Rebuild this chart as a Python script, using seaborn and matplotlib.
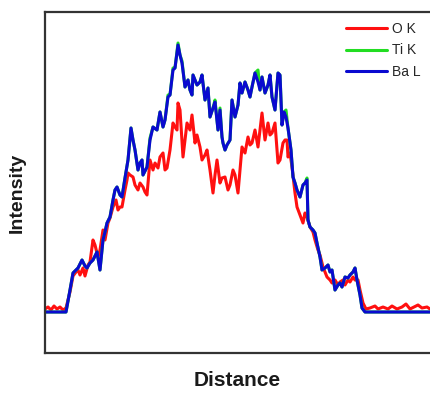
import pandas as pd
import numpy as np
import matplotlib
matplotlib.use("Agg")
import matplotlib.pyplot as plt
import seaborn as sns

# line scan values (distance in a.u., intensity in counts)
ba_dist = [0, 21, 25, 28, 31, 33, 35, 37, 40, 42, 45, 48, 50, 52, 55, 58, 60, 62, 65, 68,
           70, 72, 75, 77, 80, 83, 86, 88, 90, 93, 95, 97, 98, 102, 105, 108, 112, 115, 118, 120,
           123, 125, 128, 130, 133, 135, 137, 140, 143, 145, 147, 148, 152, 155, 157, 160, 163, 165, 168, 170,
           173, 175, 177, 178, 180, 182, 185, 187, 190, 193, 195, 197, 200, 203, 205, 207, 210, 213, 215, 217,
           220, 223, 225, 227, 230, 233, 235, 237, 239, 241, 243, 246, 248, 250, 252, 255, 258, 260, 262, 263,
           265, 268, 270, 272, 275, 277, 280, 283, 285, 287, 290, 293, 295, 297, 300, 303, 305, 308, 310, 312,
           315, 317, 320, 323, 385]
ba_int = [0, 0, 22, 39, 42, 44, 48, 52, 46, 44, 49, 52, 56, 60, 42, 72, 80, 89, 95, 112,
          122, 125, 117, 115, 134, 152, 184, 172, 162, 142, 149, 152, 137, 145, 172, 185, 182, 200, 185, 192,
          215, 217, 242, 244, 267, 257, 249, 225, 232, 222, 217, 237, 227, 230, 237, 212, 224, 195, 204, 210,
          182, 202, 175, 169, 162, 167, 172, 212, 195, 207, 229, 219, 230, 222, 215, 225, 239, 230, 222, 235,
          219, 227, 237, 215, 202, 239, 237, 187, 200, 195, 184, 162, 135, 129, 122, 115, 127, 129, 132, 92,
          85, 82, 79, 69, 55, 42, 44, 47, 40, 42, 22, 27, 29, 25, 35, 34, 37, 40, 44, 32,
          17, 4, 0, 0, 0]
ti_int = [0, 0, 22, 39, 42, 44, 48, 52, 46, 44, 49, 52, 56, 60, 42, 72, 80, 89, 95, 112,
          122, 125, 117, 115, 134, 152, 184, 172, 162, 142, 149, 152, 137, 145, 174, 185, 182, 200, 185, 192,
          217, 217, 244, 244, 269, 257, 251, 225, 232, 222, 217, 237, 227, 230, 237, 212, 224, 195, 204, 212,
          182, 204, 175, 169, 162, 167, 172, 212, 195, 207, 229, 219, 230, 222, 215, 225, 239, 242, 222, 235,
          219, 227, 237, 215, 202, 239, 237, 187, 200, 202, 184, 162, 135, 129, 122, 115, 127, 129, 134, 92,
          85, 82, 79, 69, 55, 42, 44, 47, 40, 42, 22, 27, 29, 25, 35, 34, 37, 40, 44, 32,
          17, 4, 0, 0, 0]
o_dist = [0, 3, 6, 9, 12, 15, 18, 21, 25, 28, 31, 33, 35, 38, 40, 43, 45, 48, 50, 53,
          55, 58, 60, 63, 65, 68, 71, 73, 75, 77, 80, 82, 83, 85, 88, 90, 93, 95, 98, 100,
          102, 105, 108, 110, 113, 115, 118, 120, 122, 125, 128, 130, 132, 133, 135, 138, 140, 142, 145, 147,
          150, 152, 155, 157, 160, 162, 165, 168, 170, 172, 175, 177, 180, 183, 185, 188, 190, 193, 195, 197,
          200, 203, 205, 207, 210, 213, 215, 217, 220, 223, 225, 227, 230, 233, 235, 238, 240, 242, 243, 245,
          247, 250, 252, 255, 258, 260, 262, 265, 268, 270, 273, 275, 278, 280, 282, 285, 287, 290, 293, 295,
          298, 300, 303, 305, 308, 310, 313, 315, 318, 321, 325, 330, 333, 338, 343, 347, 352, 357, 361, 365,
          369, 373, 377, 382, 385]
o_int = [3, 5, 2, 6, 3, 5, 2, 4, 20, 36, 40, 42, 37, 44, 36, 47, 50, 72, 67, 55,
         62, 82, 72, 89, 94, 105, 112, 102, 105, 105, 122, 132, 139, 137, 135, 127, 122, 129, 125, 120,
         117, 152, 142, 149, 144, 155, 159, 142, 144, 162, 189, 185, 182, 209, 202, 155, 172, 189, 182, 197,
         169, 177, 165, 152, 157, 162, 142, 119, 137, 152, 129, 134, 135, 122, 127, 142, 137, 119, 142, 165,
         159, 175, 167, 169, 182, 165, 182, 199, 172, 189, 177, 179, 189, 149, 152, 169, 172, 172, 155, 159,
         145, 119, 105, 97, 89, 99, 95, 85, 80, 72, 62, 57, 45, 40, 35, 32, 29, 32, 27, 30,
         32, 27, 32, 30, 35, 32, 32, 22, 9, 3, 4, 6, 3, 5, 3, 6, 3, 5, 8, 3,
         5, 7, 4, 5, 3]

sns.set_style("white")
plt.rcParams["font.family"] = ["Liberation Sans", "DejaVu Sans"]

fig = plt.figure(figsize=(4.3, 3.94), dpi=100)
ax = fig.add_axes([45 / 430, 1 - 353 / 394, 385 / 430, 341 / 394])

sns.lineplot(x=o_dist, y=o_int, ax=ax, color="#ff1010", linewidth=2.2, label="O K")
sns.lineplot(x=ba_dist, y=ti_int, ax=ax, color="#22dd22", linewidth=2.2, label="Ti K")
sns.lineplot(x=ba_dist, y=ba_int, ax=ax, color="#0a0ad0", linewidth=2.2, label="Ba L")

ax.set_xlim(0, 385)
ax.set_ylim(-41, 300)
ax.set_xticks([])
ax.set_yticks([])
for s in ["left", "bottom", "top"]:
    ax.spines[s].set_color("#333333")
    ax.spines[s].set_linewidth(1.6)
ax.spines["right"].set_visible(False)

ax.set_xlabel("Distance", fontsize=15, fontweight="bold", labelpad=13, color="#1a1a1a")
ax.set_ylabel("Intensity", fontsize=14, fontweight="bold", color="#1a1a1a")
ax.yaxis.set_label_coords(-0.05, 0.47)

ax.legend(loc="upper right", frameon=False, fontsize=10, handlelength=3.0,
          handletextpad=0.3, labelspacing=0.55, borderaxespad=0.3)

plt.savefig("out.png", dpi=100)
